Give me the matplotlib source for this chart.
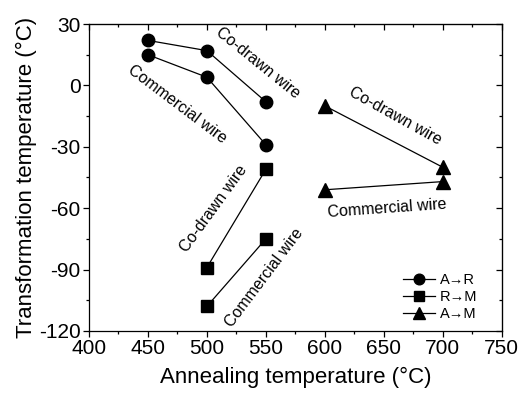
import matplotlib
matplotlib.use("Agg")
import matplotlib.pyplot as plt
from matplotlib.ticker import MultipleLocator

plt.rcParams['font.family'] = ['Liberation Sans', 'DejaVu Sans']
plt.rcParams['axes.unicode_minus'] = False

# Data
ar_x = [450, 500, 550]
ar_codrawn = [22, 17, -8]
ar_commercial = [15, 4, -29]
rm_x = [500, 550]
rm_codrawn = [-89, -41]
rm_commercial = [-108, -75]
am_x = [600, 700]
am_codrawn = [-10, -40]
am_commercial = [-51, -47]

fig = plt.figure(figsize=(5.2, 3.94), dpi=100)
ax = fig.add_axes([0.171, 0.160, 0.794, 0.779])

lw = 0.9
ms = 9
ax.plot(ar_x, ar_codrawn, '-o', color='black', lw=lw, ms=ms, label='A→R')
ax.plot(ar_x, ar_commercial, '-o', color='black', lw=lw, ms=ms)
ax.plot(rm_x, rm_codrawn, '-s', color='black', lw=lw, ms=ms - 1, label='R→M')
ax.plot(rm_x, rm_commercial, '-s', color='black', lw=lw, ms=ms - 1)
ax.plot(am_x, am_codrawn, '-^', color='black', lw=lw, ms=ms + 1.5, label='A→M')
ax.plot(am_x, am_commercial, '-^', color='black', lw=lw, ms=ms + 1.5)

ax.set_xlim(400, 750)
ax.set_ylim(-120, 30)
ax.xaxis.set_major_locator(MultipleLocator(50))
ax.xaxis.set_minor_locator(MultipleLocator(25))
ax.yaxis.set_major_locator(MultipleLocator(30))
ax.yaxis.set_minor_locator(MultipleLocator(15))

ax.tick_params(which='both', direction='out', top=False, right=False, labelsize=15, width=0.9, pad=2)
ax.tick_params(which='major', length=4)
ax.tick_params(which='minor', length=2.5)
# mirrored inward ticks on top/right
axt = ax.secondary_xaxis('top')
axt.xaxis.set_major_locator(MultipleLocator(50))
axt.xaxis.set_minor_locator(MultipleLocator(25))
axt.tick_params(which='both', direction='in', labeltop=False, width=0.9)
axt.tick_params(which='major', length=4)
axt.tick_params(which='minor', length=2.5)
axr = ax.secondary_yaxis('right')
axr.yaxis.set_major_locator(MultipleLocator(30))
axr.yaxis.set_minor_locator(MultipleLocator(15))
axr.tick_params(which='both', direction='in', labelright=False, width=0.9)
axr.tick_params(which='major', length=4)
axr.tick_params(which='minor', length=2.5)

for s in ax.spines.values():
    s.set_linewidth(0.9)

ax.set_xlabel('Annealing temperature (°C)', fontsize=16, labelpad=6)
ax.set_ylabel('Transformation temperature (°C)', fontsize=16, labelpad=1)

fs = 11.5
ax.text(543, 11, 'Co-drawn wire', rotation=-39, ha='center', va='center', fontsize=fs)
ax.text(475, -9, 'Commercial wire', rotation=-37, ha='center', va='center', fontsize=fs)
ax.text(660, -15, 'Co-drawn wire', rotation=-29, ha='center', va='center', fontsize=fs)
ax.text(653, -60, 'Commercial wire', rotation=4, ha='center', va='center', fontsize=fs)
ax.text(506, -60, 'Co-drawn wire', rotation=54, ha='center', va='center', fontsize=fs)
ax.text(549, -94, 'Commercial wire', rotation=53, ha='center', va='center', fontsize=fs)

leg = ax.legend(loc='lower right', frameon=False, fontsize=10.5, handlelength=2.2,
                handletextpad=0.3, labelspacing=0.2, borderaxespad=0.3,
                markerscale=0.85, bbox_to_anchor=(0.965, 0.0))

fig.savefig('out.png', dpi=100)
